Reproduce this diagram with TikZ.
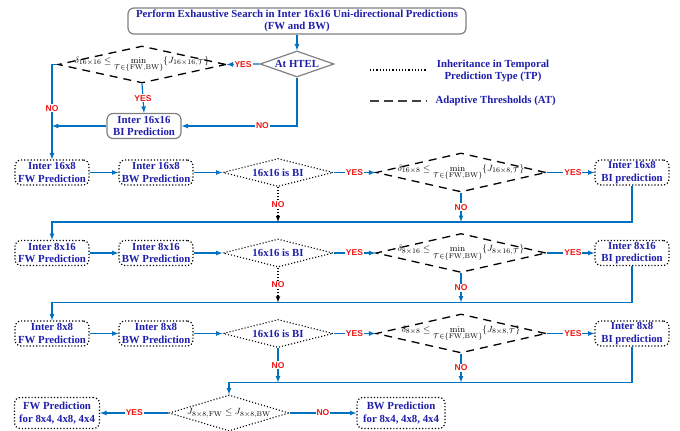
\documentclass[tikz,border=0pt]{standalone}
\usepackage{amsmath}
\usepackage[no-math]{fontspec}
\setmainfont{Liberation Serif}
\newfontfamily\ynfont{Liberation Sans}
\usetikzlibrary{shapes.geometric}
\usetikzlibrary{positioning}
\usetikzlibrary{arrows}

\definecolor{flowblue}{RGB}{0,112,192}
\definecolor{txtblue}{RGB}{30,30,170}
\definecolor{ynred}{RGB}{240,20,20}
\definecolor{edgegray}{RGB}{128,128,128}

\begin{document}
\begin{tikzpicture}
    [x=1pt, y=-1pt, on grid,
     font=\bfseries\fontsize{10.8}{12.5}\selectfont,
     solidbox/.style = {draw=edgegray, line width=1.2pt, rounded corners=6pt, text=txtblue, align=center, inner sep=1pt},
     dotbox/.style = {draw, line width=1.2pt, dotted, rounded corners=6pt, text=txtblue, align=center, inner sep=1pt, minimum width=74pt, minimum height=25pt},
     dotdia/.style = {draw, diamond, line width=1.1pt, dotted, text=txtblue, inner sep=0pt, aspect=3.9, minimum width=110pt, minimum height=28pt},
     atdia/.style = {draw, diamond, line width=1.3pt, dash pattern=on 8pt off 6pt, inner sep=0pt, minimum width=170pt, minimum height=39pt},
     mathtxt/.style = {font=\fontsize{9.5}{11}\selectfont, inner sep=0pt},
     flow/.style = {draw=flowblue, line width=1.2pt, -latex},
     tpflow/.style = {draw, line width=1.1pt, dotted, -latex},
     yn/.style = {font=\ynfont\bfseries\fontsize{8.5}{9}\selectfont, text=ynred, fill=white, inner sep=1pt}]
    \useasboundingbox (0,0) rectangle (680,431);

    % top part
    \node[solidbox, minimum width=338pt, minimum height=26pt] (srch) at (297,21) {Perform Exhaustive Search in Inter 16x16 Uni-directional Predictions\\(FW and BW)};
    \node[draw=edgegray, diamond, line width=1.2pt, text=txtblue, inner sep=0pt, aspect=2.8, minimum width=74pt, minimum height=26pt] (htel) at (297,64) {At HTEL};
    \node[atdia, minimum width=168pt, minimum height=37pt] (at0) at (142,64.5) {};
    \node[mathtxt] (at0t) at (at0) {$\delta_{16\times16}\leq\min\limits_{\mathcal{T}\in\{\mathrm{FW},\mathrm{BW}\}}\{J_{16\times16,\mathcal{T}}\}$};
    \node[solidbox, minimum width=74pt, minimum height=25pt] (bi0) at (144,126) {Inter 16x16\\BI Prediction};

    % legend
    \coordinate (tpa) at (370,70);
    \coordinate (tpb) at (427,70);
    \draw[line width=1.2pt, dotted] (tpa) -- (tpb);
    \node[text=txtblue, align=center] (tplbl) at (493,71) {Inheritance in Temporal\\Prediction Type (TP)};
    \coordinate (ata) at (370,101);
    \coordinate (atb) at (427,101);
    \draw[line width=1.6pt, draw=black!75, dash pattern=on 9pt off 5pt] (ata) -- (atb);
    \node[text=txtblue, anchor=west] (atlbl) at (432,101) {Adaptive Thresholds (AT)};

    % row 16x8
    \node[dotbox] (fw1) at (52,172.5) {Inter 16x8\\FW Prediction};
    \node[dotbox] (bw1) [right=104pt of fw1] {Inter 16x8\\BW Prediction};
    \node[dotdia] (bi1) [right=122pt of bw1] {16x16 is BI};
    \node[atdia] (at1) [right=183pt of bi1] {};
    \node[mathtxt] (at1t) at (at1) {$\delta_{16\times8}\leq\min\limits_{\mathcal{T}\in\{\mathrm{FW},\mathrm{BW}\}}\{J_{16\times8,\mathcal{T}}\}$};
    \node[dotbox] (bix1) [right=171pt of at1] {Inter 16x8\\BI prediction};

    % row 8x16
    \node[dotbox] (fw2) [below=80.5pt of fw1] {Inter 8x16\\FW Prediction};
    \node[dotbox] (bw2) [right=104pt of fw2] {Inter 8x16\\BW Prediction};
    \node[dotdia] (bi2) [right=122pt of bw2] {16x16 is BI};
    \node[atdia] (at2) [right=183pt of bi2] {};
    \node[mathtxt] (at2t) at (at2) {$\delta_{8\times16}\leq\min\limits_{\mathcal{T}\in\{\mathrm{FW},\mathrm{BW}\}}\{J_{8\times16,\mathcal{T}}\}$};
    \node[dotbox] (bix2) [right=171pt of at2] {Inter 8x16\\BI prediction};

    % row 8x8
    \node[dotbox] (fw3) [below=80.5pt of fw2] {Inter 8x8\\FW Prediction};
    \node[dotbox] (bw3) [right=104pt of fw3] {Inter 8x8\\BW Prediction};
    \node[dotdia] (bi3) [right=122pt of bw3] {16x16 is BI};
    \node[atdia] (at3) [right=183pt of bi3] {};
    \node[mathtxt] (at3t) at (at3) {$\delta_{8\times8}\leq\min\limits_{\mathcal{T}\in\{\mathrm{FW},\mathrm{BW}\}}\{J_{8\times8,\mathcal{T}}\}$};
    \node[dotbox] (bix3) [right=171pt of at3] {Inter 8x8\\BI prediction};

    % last decision
    \node[dotdia, minimum width=120pt, minimum height=36pt] (dj) at (229,413) {};
    \node[mathtxt] (djt) at (dj) {$J_{8\times8,\mathrm{FW}}\leq J_{8\times8,\mathrm{BW}}$};
    \node[dotbox, minimum width=85pt, minimum height=31pt] (fwp) at (57,413) {FW Prediction\\for 8x4, 4x8, 4x4};
    \node[dotbox, minimum width=88pt, minimum height=31pt] (bwp) at (401,413) {BW Prediction\\for 8x4, 4x8, 4x4};

    \coordinate[above=18pt of fw2.north] (r1);
    \coordinate[above=18pt of fw3.north] (r2);
    \coordinate[above=12pt of dj.north] (r3);

    % connectors
    \draw[flow] (srch) -- (htel);
    \draw[flow] (htel.west) -- node[yn] {YES} (at0.east);
    \draw[flow] (htel.south) |- node[yn, pos=0.65] {NO} (bi0.east);
    \draw[flow] (at0.south) -- node[yn] {YES} (bi0.north);
    \draw[flow] (at0.west) -| node[yn, pos=0.73] {NO} (fw1.north);
    \draw[flow] (bi0.west) -- (bi0.west -| fw1.north);

    \draw[flow] (fw1) -- (bw1);
    \draw[flow] (bw1) -- (bi1);
    \draw[flow] (bi1) -- node[yn] {YES} (at1);
    \draw[flow] (at1) -- node[yn, pos=0.55] {YES} (bix1);
    \draw[flow] (bix1.south) |- (r1) -- (fw2.north);
    \draw[tpflow] (bi1.south) -- node[yn] {NO} (bi1.south |- r1);
    \draw[flow] (at1.south) -- node[yn] {NO} (at1.south |- r1);

    \draw[flow] (fw2) -- (bw2);
    \draw[flow] (bw2) -- (bi2);
    \draw[flow] (bi2) -- node[yn] {YES} (at2);
    \draw[flow] (at2) -- node[yn, pos=0.55] {YES} (bix2);
    \draw[flow] (bix2.south) |- (r2) -- (fw3.north);
    \draw[tpflow] (bi2.south) -- node[yn] {NO} (bi2.south |- r2);
    \draw[flow] (at2.south) -- node[yn] {NO} (at2.south |- r2);

    \draw[flow] (fw3) -- (bw3);
    \draw[flow] (bw3) -- (bi3);
    \draw[flow] (bi3) -- node[yn] {YES} (at3);
    \draw[flow] (at3) -- node[yn, pos=0.55] {YES} (bix3);
    \draw[flow] (bix3.south) |- (r3) -- (dj.north);
    \draw[flow] (bi3.south) -- node[yn] {NO} (bi3.south |- r3);
    \draw[flow] (at3.south) -- node[yn] {NO} (at3.south |- r3);

    \draw[flow] (dj.west) -- node[yn] {YES} (fwp.east);
    \draw[flow] (dj.east) -- node[yn] {NO} (bwp.west);
\end{tikzpicture}
\end{document}
